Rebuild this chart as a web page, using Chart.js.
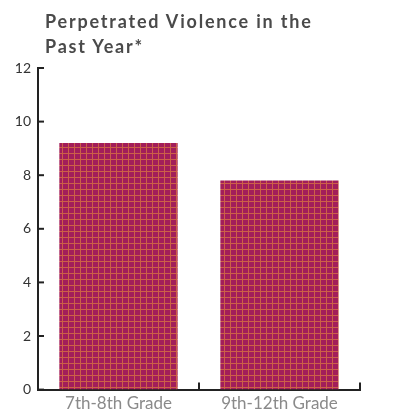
<!DOCTYPE html>
<html>
<head>
<meta charset="utf-8">
<script src="https://cdn.jsdelivr.net/npm/chart.js@4/dist/chart.umd.min.js"></script>
<style>
  html, body { margin: 0; padding: 0; background: #fff; }
  #wrap { position: relative; width: 409px; height: 415px; }
  #title {
    position: absolute; left: 45px; top: 9px;
    font: bold 18px "Lato", sans-serif; color: #4a4a4a;
    line-height: 25px; letter-spacing: 1.8px;
  }
  canvas { display: block; }
</style>
</head>
<body>
<div id="wrap">
  <div id="title">Perpetrated Violence in the<br>Past Year*</div>
  <canvas id="chart" width="409" height="415"></canvas>
</div>
<script>
const categories = ['7th-8th Grade', '9th-12th Grade'];
const values = [9.2, 7.8];
const yTicks = [0, 2, 4, 6, 8, 10, 12];

// small crosshatch tile for the bar fill
function makePattern() {
    const c = document.createElement('canvas');
    c.width = 6; c.height = 6;
    const g = c.getContext('2d');
    g.fillStyle = '#a21e5a';
    g.fillRect(0, 0, 6, 6);
    g.fillStyle = '#cc6048';
    g.fillRect(2, 0, 1, 6);
    g.fillRect(0, 3, 6, 1);
    return g.createPattern(c, 'repeat');
}

// inward tick marks for both axes
const inwardTicks = {
    id: 'inwardTicks',
    afterDraw(chart) {
        const ctx = chart.ctx;
        const y = chart.scales.y;
        const area = chart.chartArea;
        ctx.save();
        ctx.strokeStyle = '#222';
        ctx.lineWidth = 2;
        yTicks.forEach(v => {
            const py = y.getPixelForValue(v);
            ctx.beginPath();
            ctx.moveTo(area.left, py);
            ctx.lineTo(area.left + 6, py);
            ctx.stroke();
        });
        for (let i = 1; i <= categories.length; i++) {
            const px = area.left + (area.right - area.left) * i / categories.length;
            ctx.beginPath();
            ctx.moveTo(px, area.bottom);
            ctx.lineTo(px, area.bottom - 7);
            ctx.stroke();
        }
        ctx.restore();
    }
};

new Chart(document.getElementById('chart'), {
    type: 'bar',
    data: {
        labels: categories,
        datasets: [{
            data: values,
            backgroundColor: makePattern(),
            borderWidth: 0,
            barPercentage: 0.735,
            categoryPercentage: 1
        }]
    },
    options: {
        responsive: false,
        animation: false,
        layout: { padding: { top: 68, right: 49, bottom: -3, left: 0 } },
        plugins: { legend: { display: false }, tooltip: { enabled: false } },
        scales: {
            x: {
                grid: { display: false, drawTicks: false },
                border: { display: true, color: '#222', width: 2 },
                ticks: { color: '#8a8a8a', font: { family: 'Lato', size: 17 }, padding: 4 }
            },
            y: {
                min: 0, max: 12,
                afterFit(scale) { scale.width = 38; },
                afterBuildTicks(scale) { scale.ticks = yTicks.map(v => ({ value: v })); },
                grid: { display: false, drawTicks: false },
                border: { display: true, color: '#222', width: 2 },
                ticks: { color: '#333', font: { family: 'Lato', size: 14 }, padding: 7 }
            }
        }
    },
    plugins: [inwardTicks]
});
</script>
</body>
</html>
